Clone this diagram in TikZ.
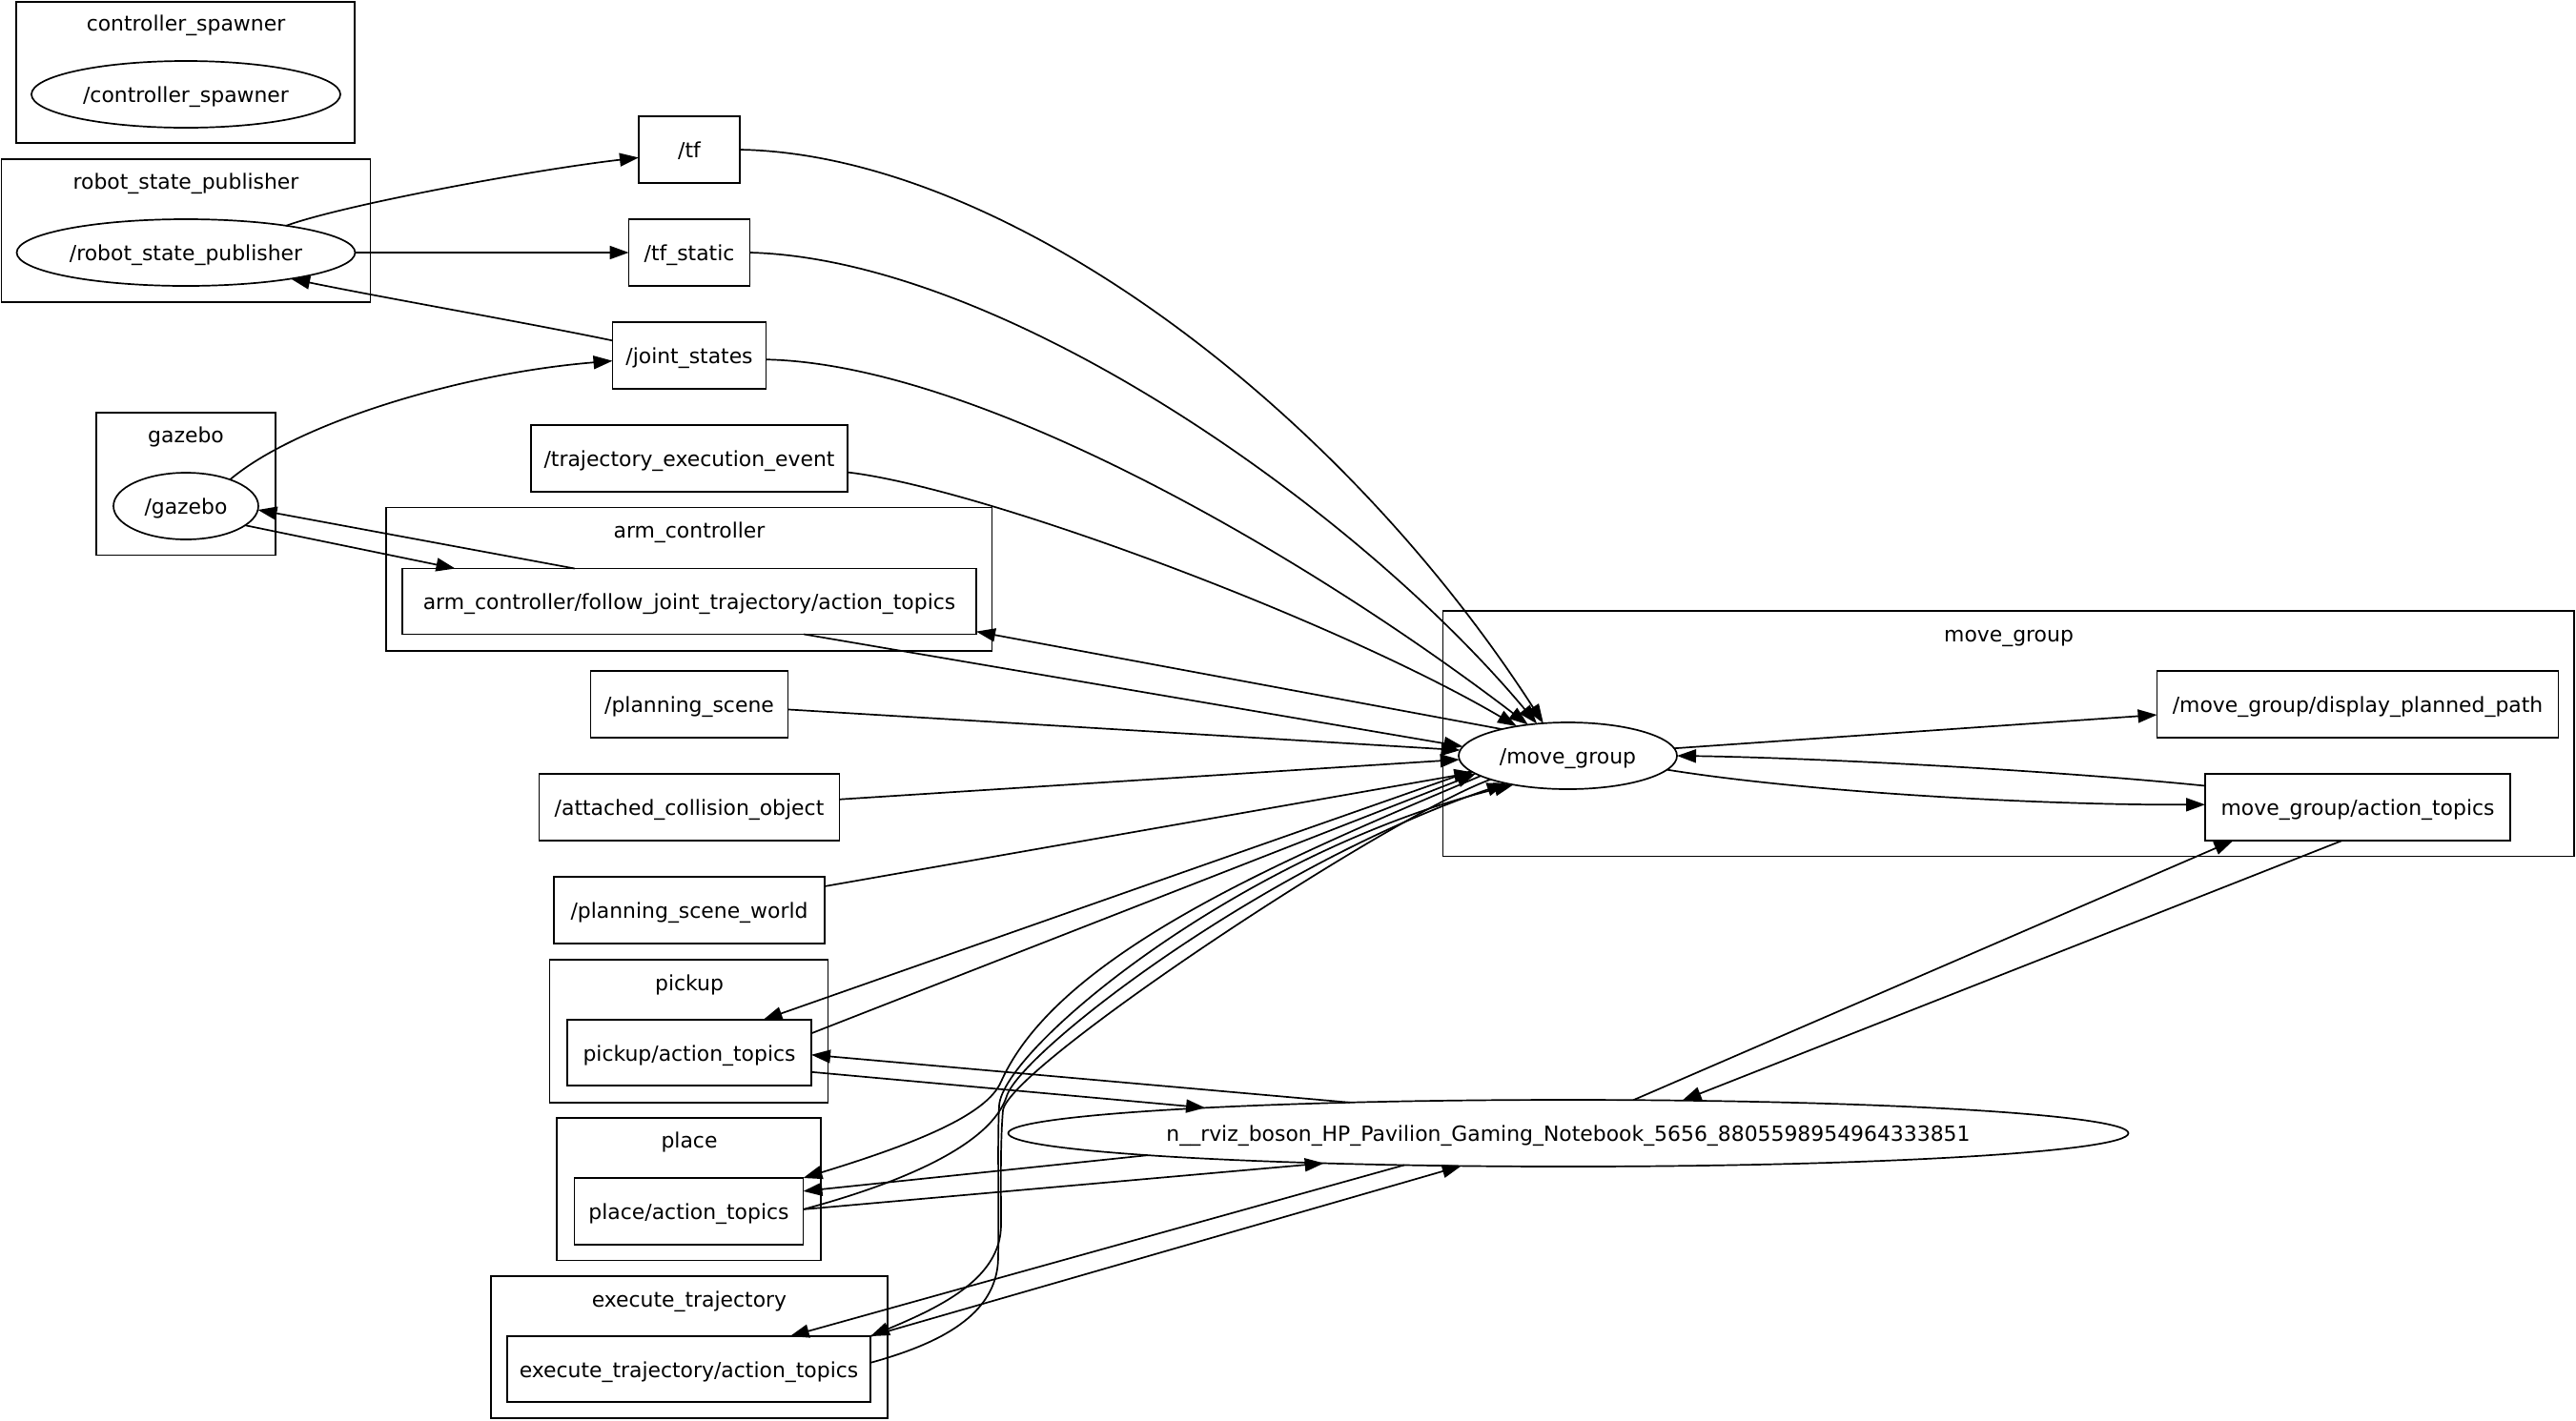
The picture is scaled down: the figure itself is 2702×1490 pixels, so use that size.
\documentclass[tikz,border=0pt]{standalone}
\usepackage{fontspec}
\setmainfont{DejaVu Sans}
\usetikzlibrary{arrows.meta,shapes.geometric}
\begin{document}
\begin{tikzpicture}[x=0.5pt,y=-0.5pt,
  font=\fontsize{10.95pt}{13pt}\selectfont,
  every node/.style={inner sep=0pt, outer sep=0pt, line width=0.85pt, text height=9.2pt, text depth=0.4pt},
  gvell/.style={ellipse, draw},
  gvbox/.style={rectangle, draw},
  gvclus/.style={rectangle, draw},
  gvedge/.style={draw, line width=0.85pt, -{Triangle[length=10pt,width=7pt]}}]
\useasboundingbox (0,0) rectangle (2702,1490);

% clusters
\node[gvclus, minimum width=177.5pt, minimum height=74pt] (ccs) at (194.5,76) {};
\node (ccsl) at (195,24) {controller\_spawner};
\node[gvclus, minimum width=193.5pt, minimum height=75pt] (crsp) at (195,242) {};
\node (crspl) at (195,190) {robot\_state\_publisher};
\node[gvclus, minimum width=94pt, minimum height=74.8pt] (cgz) at (195,507.8) {};
\node (cgzl) at (195,456) {gazebo};
\node[gvclus, minimum width=317.8pt, minimum height=75.2pt] (carm) at (722.8,607.8) {};
\node (carml) at (723,556) {arm\_controller};
\node[gvclus, minimum width=593.3pt, minimum height=128.8pt] (cmg) at (2106.7,769.8) {};
\node (cmgl) at (2107,665) {move\_group};
\node[gvclus, minimum width=146pt, minimum height=74.9pt] (cpick) at (722.5,1081.9) {};
\node (cpickl) at (723,1031) {pickup};
\node[gvclus, minimum width=138.5pt, minimum height=74.7pt] (cplace) at (722.5,1247.7) {};
\node (cplacel) at (723,1196) {place};
\node[gvclus, minimum width=208pt, minimum height=74.5pt] (cexe) at (723,1413.5) {};
\node (cexel) at (723,1363) {execute\_trajectory};

% ellipse nodes
\node[gvell, minimum width=162pt, minimum height=35pt] (cs) at (195,99) {\makebox[0pt]{/controller\_spawner}};
\node[gvell, minimum width=177.5pt, minimum height=35pt] (rsp) at (195,265) {\makebox[0pt]{/robot\_state\_publisher}};
\node[gvell, minimum width=76pt, minimum height=35pt] (gz) at (195,531) {\makebox[0pt]{/gazebo}};
\node[gvell, minimum width=114.5pt, minimum height=35pt] (mg) at (1644.5,793) {\makebox[0pt]{/move\_group}};
\node[gvell, minimum width=587.5pt, minimum height=35pt] (rviz) at (1645,1189) {\makebox[0pt]{n\_\_rviz\_boson\_HP\_Pavilion\_Gaming\_Notebook\_5656\_8805598954964333851}};

% box nodes
\node[gvbox, minimum width=53pt, minimum height=35pt] (tf) at (723,157) {/tf};
\node[gvbox, minimum width=63.5pt, minimum height=35pt] (tfs) at (723,265) {/tf\_static};
\node[gvbox, minimum width=80.5pt, minimum height=35pt] (js) at (723,373) {/joint\_states};
\node[gvbox, minimum width=166pt, minimum height=35pt] (tee) at (723,481) {/trajectory\_execution\_event};
\node[gvbox, minimum width=301pt, minimum height=34.5pt] (arm) at (723,631) {arm\_controller/follow\_joint\_trajectory/action\_topics};
\node[gvbox, minimum width=103.5pt, minimum height=35pt] (ps) at (723,739) {/planning\_scene};
\node[gvbox, minimum width=157.5pt, minimum height=35pt] (aco) at (723,847) {/attached\_collision\_object};
\node[gvbox, minimum width=142pt, minimum height=35pt] (psw) at (723,955) {/planning\_scene\_world};
\node[gvbox, minimum width=128pt, minimum height=34.5pt] (pick) at (723,1104.5) {pickup/action\_topics};
\node[gvbox, minimum width=120pt, minimum height=35pt] (place) at (722.5,1271) {place/action\_topics};
\node[gvbox, minimum width=190.5pt, minimum height=34.5pt] (exe) at (722.5,1436.5) {execute\_trajectory/action\_topics};
\node[gvbox, minimum width=210.5pt, minimum height=35pt] (dpp) at (2473,739) {/move\_group/display\_planned\_path};
\node[gvbox, minimum width=160pt, minimum height=35pt] (mga) at (2473,847) {move\_group/action\_topics};

% edges
\draw[gvedge] (rsp.15.7) .. controls (360,215) and (560,178) .. (tf.189.6);
\draw[gvedge] (rsp.east) -- (tfs.west);
\draw[gvedge] (js.169.4) .. controls (560,340) and (400,312) .. (rsp.-14.4);
\draw[gvedge] (gz.31.7) .. controls (310,445) and (480,392) .. (js.184.3);
\draw[gvedge] (arm.164.7) -- (gz.-3.8);
\draw[gvedge] (gz.-18.4) -- (arm.172.3);
\draw[gvedge] (tf.east) .. controls (1050,162) and (1400,420) .. (mg.127.1);
\draw[gvedge] (tfs.east) .. controls (1050,272) and (1420,530) .. (mg.134.6);
\draw[gvedge] (js.-3.55) .. controls (1030,382) and (1380,590) .. (mg.142);
\draw[gvedge] (tee.-5.2) .. controls (1030,512) and (1400,650) .. (mg.150.9);
\draw[gvedge] (mg.158.2) -- (arm.-6.26);
\draw[gvedge] (arm.-16.4) -- (mg.175.5);
\draw[gvedge] (ps.-3.3) -- (mg.177);
\draw[gvedge] (aco.3.6) -- (mg.182);
\draw[gvedge] (psw.10) -- (mg.190);
\draw[gvedge] (mg.189.1) -- (pick.24.1);
\draw[gvedge] (pick.9.5) -- (mg.191.7);
\draw[gvedge] (mg.193.8) .. controls (1350,900) and (1110,1000) .. (1050,1135) .. controls (1035,1170) and (960,1200) .. (place.north east);
\draw[gvedge] (place.1.4) .. controls (950,1240) and (1040,1200) .. (1056,1150) .. controls (1070,1105) and (1320,910) .. (mg.204.5);
\draw[gvedge] (mg.197.5) .. controls (1450,860) and (1058,1120) .. (1052,1165) .. controls (1049,1200) and (1050,1250) .. (1050,1285) .. controls (1050,1340) and (990,1370) .. (exe.north east);
\draw[gvedge] (exe.2.5) .. controls (985,1410) and (1046,1380) .. (1047,1320) .. controls (1048,1260) and (1046,1200) .. (1048,1160) .. controls (1052,1100) and (1300,895) .. (mg.208.3);
\draw[gvedge] (mg.4.1) -- (dpp.183.8);
\draw[gvedge] (mga.172.3) .. controls (2150,808) and (1900,795) .. (mg.0.5);
\draw[gvedge] (mg.-8.7) .. controls (1900,832) and (2150,845) .. (mga.179.6);
\draw[gvedge] (mga.-115.6) -- (rviz.16.5);
\draw[gvedge] (rviz.27.5) -- (mga.195.4);
\draw[gvedge] (rviz.172) -- (pick.-1.1);
\draw[gvedge] (pick.-9.5) -- (rviz.176.7);
\draw[gvedge] (rviz.183.2) -- (place.10.85);
\draw[gvedge] (place.1.4) -- (rviz.187.8);
\draw[gvedge] (rviz.191.2) -- (exe.18.35);
\draw[gvedge] (exe.north east) -- (rviz.197.6);
\end{tikzpicture}
\end{document}
